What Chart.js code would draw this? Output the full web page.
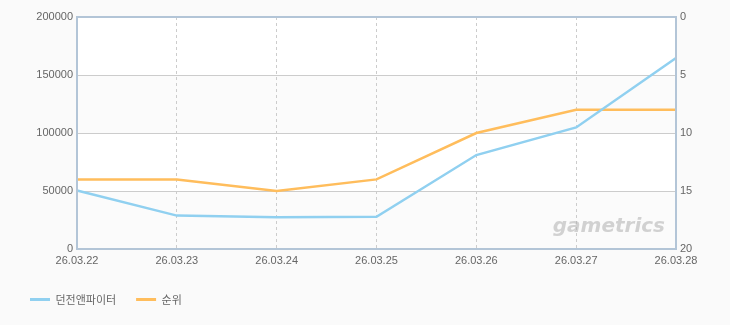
<!DOCTYPE html>
<html>
<head>
<meta charset="utf-8">
<script src="https://cdn.jsdelivr.net/npm/chart.js@4.4.1/dist/chart.umd.min.js"></script>
<style>
  html, body { margin: 0; padding: 0; background: #fafafa; }
  canvas { display: block; }
</style>
</head>
<body>
<canvas id="chart" width="730" height="325"></canvas>
<script>
// data
var dates = ['26.03.22', '26.03.23', '26.03.24', '26.03.25', '26.03.26', '26.03.27', '26.03.28'];
var players = [50500, 28800, 27300, 27800, 81000, 104800, 164700];
var ranks = [14, 14, 15, 14, 10, 8, 8];
var playerTicks = [0, 50000, 100000, 150000, 200000];
var rankTicks = [0, 5, 10, 15, 20];

const BORDER = '#b3c5d7';
const GRID = '#cccccc';
const TICK = '#666666';

// alternating bands + outline + watermark
const plotDeco = {
    id: 'plotDeco',
    beforeDraw(chart) {
        const ctx = chart.ctx;
        const a = chart.chartArea;
        const y = chart.scales.y;
        ctx.save();
        ctx.fillStyle = '#ffffff';
        ctx.fillRect(a.left, a.top, a.right - a.left, a.bottom - a.top);
        ctx.fillStyle = '#fbfbfb';
        for (var i = 0; i < playerTicks.length - 1; i += 2) {
            var y1 = y.getPixelForValue(playerTicks[i]);
            var y2 = y.getPixelForValue(playerTicks[i + 1]);
            ctx.fillRect(a.left, y2, a.right - a.left, y1 - y2);
        }
        ctx.restore();
    },
    beforeDatasetsDraw(chart) {
        const ctx = chart.ctx;
        const a = chart.chartArea;
        ctx.save();
        ctx.font = 'italic bold 20px "DejaVu Sans", sans-serif';
        ctx.fillStyle = 'rgba(175,175,175,0.55)';
        ctx.textAlign = 'right';
        ctx.textBaseline = 'alphabetic';
        ctx.fillText('gametrics', a.right - 11, a.bottom - 17);
        ctx.restore();
    },
    afterDraw(chart) {
        const ctx = chart.ctx;
        const a = chart.chartArea;
        ctx.save();
        ctx.setLineDash([]);
        ctx.strokeStyle = BORDER;
        ctx.lineWidth = 2;
        ctx.strokeRect(a.left, a.top, a.right - a.left, a.bottom - a.top);
        ctx.restore();
    }
};

const ctx = document.getElementById('chart').getContext('2d');
const config = {
    type: 'line',
    data: {
        labels: dates,
        datasets: [{
            label: '던전앤파이터',
            data: players,
            yAxisID: 'y',
            borderColor: '#90d0f0',
            backgroundColor: '#90d0f0',
            borderWidth: 2.5,
            pointRadius: 0,
            tension: 0
        },
        {
            label: '순위',
            data: ranks,
            yAxisID: 'y2',
            borderColor: '#ffbd5c',
            backgroundColor: '#ffbd5c',
            borderWidth: 2.5,
            pointRadius: 0,
            tension: 0
        }]
    },
    options: {
        responsive: false,
        animation: false,
        layout: { padding: { left: 20, right: 0, top: 17, bottom: 10 } },
        plugins: {
            tooltip: { enabled: false },
            legend: {
                position: 'bottom',
                align: 'start',
                labels: {
                    boxWidth: 20,
                    boxHeight: 3,
                    padding: 10,
                    color: TICK,
                    font: { family: '"Noto Sans CJK KR", sans-serif', size: 11 },
                    generateLabels(chart) {
                        return chart.data.datasets.map((ds, i) => ({
                            text: ds.label + '    ',
                            fillStyle: ds.borderColor,
                            strokeStyle: ds.borderColor,
                            lineWidth: 0,
                            fontColor: TICK,
                            datasetIndex: i
                        }));
                    }
                }
            }
        },
        scales: {
            x: {
                offset: false,
                afterFit(scale) { scale.height = 35; },
                grid: { color: GRID, drawTicks: false },
                border: { color: BORDER, width: 2, dash: [3, 3] },
                ticks: {
                    color: TICK,
                    padding: 5,
                    maxRotation: 0,
                    autoSkip: false,
                    font: { family: '"Liberation Sans", sans-serif', size: 11 }
                }
            },
            y: {
                position: 'left',
                min: 0,
                max: 200000,
                afterFit(scale) { scale.width = 57; },
                afterBuildTicks(scale) { scale.ticks = playerTicks.map(v => ({ value: v })); },
                grid: { color: GRID, drawTicks: false },
                border: { color: BORDER, width: 2 },
                ticks: {
                    color: TICK,
                    padding: 4,
                    font: { family: '"Liberation Sans", sans-serif', size: 11 },
                    callback: v => String(v)
                }
            },
            y2: {
                position: 'right',
                reverse: true,
                min: 0,
                max: 20,
                afterFit(scale) { scale.width = 54; },
                afterBuildTicks(scale) { scale.ticks = rankTicks.map(v => ({ value: v })); },
                grid: { display: false, drawTicks: false },
                border: { color: BORDER, width: 2 },
                ticks: {
                    color: TICK,
                    padding: 4,
                    font: { family: '"Liberation Sans", sans-serif', size: 11 }
                }
            }
        }
    },
    plugins: [plotDeco]
};
new Chart(ctx, config);
</script>
</body>
</html>
